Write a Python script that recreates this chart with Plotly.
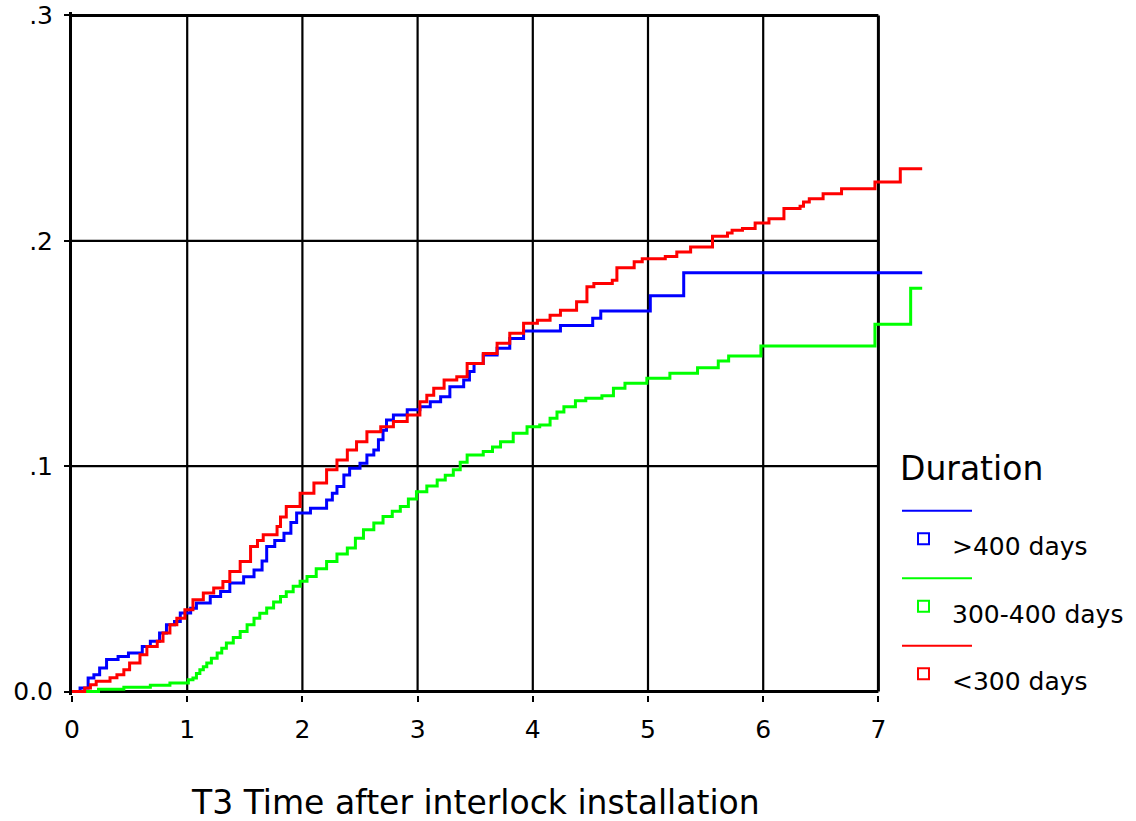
import plotly.graph_objects as go

# ---------------- data ----------------
series_names = [">400 days", "300-400 days", "<300 days"]
series_colors = ["#0000FF", "#00FF00", "#FF0000"]
legend_title = "Duration"
x_title = "T3 Time after interlock installation"

x_tick_vals = [0, 1, 2, 3, 4, 5, 6, 7]
x_tick_text = ["0", "1", "2", "3", "4", "5", "6", "7"]
y_tick_vals = [0.0, 0.1, 0.2, 0.3]
y_tick_text = ["0.0", ".1", ".2", ".3"]

blue_x = [0, 0.07, 0.14, 0.19, 0.24, 0.30, 0.40, 0.49, 0.61, 0.68, 0.76, 0.82, 0.89,
          0.94, 1.03, 1.08, 1.20, 1.29, 1.37, 1.49, 1.58, 1.65, 1.69, 1.76, 1.84, 1.90,
          1.95, 2.07, 2.21, 2.26, 2.30, 2.36, 2.41, 2.50, 2.56, 2.62, 2.66, 2.70, 2.73,
          2.79, 2.91, 3.02, 3.11, 3.20, 3.28, 3.40, 3.45, 3.49, 3.57, 3.69, 3.80, 3.92,
          4.24, 4.52, 4.59, 5.02, 5.31, 7.38]
blue_y = [0, 0.0016, 0.0060, 0.0075, 0.0105, 0.0142, 0.0156, 0.0171, 0.0200, 0.0223,
          0.0260, 0.0297, 0.0311, 0.0349, 0.0370, 0.0393, 0.0422, 0.0444, 0.0482, 0.0510,
          0.0540, 0.0579, 0.0644, 0.0670, 0.0703, 0.0750, 0.0792, 0.0814, 0.0850, 0.0880,
          0.0910, 0.0961, 0.0991, 0.1013, 0.1050, 0.1072, 0.1117, 0.1160, 0.1205, 0.1227,
          0.1250, 0.1264, 0.1286, 0.1308, 0.1353, 0.1382, 0.1420, 0.1456, 0.1493, 0.1523,
          0.1567, 0.1600, 0.1624, 0.1656, 0.1688, 0.1756, 0.1858, 0.1858]

green_x = [0, 0.23, 0.45, 0.68, 0.85, 1.01, 1.05, 1.08, 1.11, 1.14, 1.17, 1.21, 1.26,
           1.30, 1.34, 1.40, 1.46, 1.52, 1.58, 1.63, 1.69, 1.75, 1.81, 1.86, 1.92, 1.98,
           2.04, 2.12, 2.21, 2.30, 2.39, 2.46, 2.53, 2.62, 2.70, 2.78, 2.85, 2.92, 2.99,
           3.08, 3.17, 3.24, 3.31, 3.37, 3.43, 3.57, 3.65, 3.72, 3.83, 3.95, 4.06, 4.15,
           4.21, 4.27, 4.37, 4.46, 4.60, 4.70, 4.80, 4.99, 5.19, 5.43, 5.61, 5.70, 5.98,
           6.97, 7.28, 7.38]
green_y = [0, 0.0010, 0.0019, 0.0028, 0.0038, 0.0053, 0.0060, 0.0080, 0.0097, 0.0110,
           0.0127, 0.0148, 0.0171, 0.0192, 0.0216, 0.0240, 0.0267, 0.0297, 0.0326, 0.0348,
           0.0371, 0.0398, 0.0422, 0.0443, 0.0467, 0.0490, 0.0511, 0.0545, 0.0577, 0.0610,
           0.0637, 0.0680, 0.0718, 0.0748, 0.0777, 0.0800, 0.0821, 0.0855, 0.0887, 0.0912,
           0.0939, 0.0960, 0.0984, 0.1017, 0.1050, 0.1065, 0.1085, 0.1109, 0.1146, 0.1175,
           0.1183, 0.1213, 0.1240, 0.1264, 0.1290, 0.1301, 0.1313, 0.1346, 0.1368, 0.1390,
           0.1412, 0.1437, 0.1467, 0.1489, 0.1533, 0.1630, 0.1789, 0.1789]

red_x = [0, 0.11, 0.16, 0.21, 0.33, 0.39, 0.45, 0.50, 0.59, 0.65, 0.74, 0.79, 0.85,
         0.91, 0.98, 1.05, 1.14, 1.23, 1.31, 1.37, 1.46, 1.55, 1.61, 1.66, 1.78, 1.81,
         1.86, 1.98, 2.10, 2.21, 2.30, 2.39, 2.47, 2.56, 2.68, 2.79, 2.91, 3.02, 3.08,
         3.14, 3.23, 3.34, 3.43, 3.57, 3.69, 3.80, 3.92, 4.04, 4.15, 4.24, 4.38, 4.47,
         4.53, 4.69, 4.73, 4.88, 4.95, 5.15, 5.25, 5.37, 5.56, 5.69, 5.73, 5.82, 5.93,
         6.05, 6.18, 6.32, 6.35, 6.40, 6.52, 6.68, 6.97, 7.19, 7.38]
red_y = [0, 0.0016, 0.0031, 0.0046, 0.0061, 0.0075, 0.0097, 0.0127, 0.0164, 0.0200,
         0.0223, 0.0260, 0.0297, 0.0326, 0.0363, 0.0408, 0.0437, 0.0460, 0.0489, 0.0533,
         0.0577, 0.0644, 0.0670, 0.0696, 0.0732, 0.0775, 0.0821, 0.0880, 0.0925, 0.0984,
         0.1028, 0.1072, 0.1109, 0.1153, 0.1175, 0.1198, 0.1227, 0.1286, 0.1315, 0.1346,
         0.1382, 0.1397, 0.1456, 0.1500, 0.1545, 0.1590, 0.1634, 0.1648, 0.1670, 0.1692,
         0.1730, 0.1796, 0.1810, 0.1825, 0.1880, 0.1907, 0.1920, 0.1930, 0.1950, 0.1973,
         0.2020, 0.2035, 0.2047, 0.2054, 0.2079, 0.2098, 0.2143, 0.2153, 0.2172, 0.2187,
         0.2209, 0.2231, 0.2261, 0.2320, 0.2320]

series_x = [blue_x, green_x, red_x]
series_y = [blue_y, green_y, red_y]

# ---------------- layout geometry ----------------
W, H = 1136, 821
ML, MR, MT, MB = 72, 200, 12, 126
X_RANGE = [0, 7.5]
Y_RANGE = [-0.0015, 0.3015]
PW = W - ML - MR
PH = H - MT - MB
BOX_X = 7
BOX_Y = 0.3
FONT = "DejaVu Sans"


def px_to_paper_x(px):
    return (px - ML) / PW


def px_to_paper_y(py):
    return (H - MB - py) / PH


fig = go.Figure()

for name, color, xs, ys in zip(series_names, series_colors, series_x, series_y):
    fig.add_trace(go.Scatter(
        x=xs, y=ys, mode="lines", name=name, showlegend=False,
        line=dict(color=color, width=3, shape="hv"), hoverinfo="skip"))

shapes = []
for xv in x_tick_vals[1:-1]:
    shapes.append(dict(type="line", xref="x", yref="y", x0=xv, x1=xv, y0=0, y1=BOX_Y,
                       line=dict(color="black", width=2.2), layer="below"))
for yv in y_tick_vals[1:-1]:
    shapes.append(dict(type="line", xref="x", yref="y", x0=0, x1=BOX_X, y0=yv, y1=yv,
                       line=dict(color="black", width=2.2), layer="below"))
shapes.append(dict(type="line", xref="x", yref="y", x0=BOX_X, x1=BOX_X, y0=0, y1=BOX_Y,
                   line=dict(color="black", width=3), layer="below"))
shapes.append(dict(type="line", xref="x", yref="y", x0=0, x1=BOX_X, y0=BOX_Y, y1=BOX_Y,
                   line=dict(color="black", width=3), layer="below"))
shapes.append(dict(type="line", xref="x", yref="y", x0=0, x1=BOX_X, y0=0, y1=0,
                   line=dict(color="black", width=3), layer="below"))

annotations = []
annotations.append(dict(text=x_title, xref="x", yref="paper", x=BOX_X / 2,
                        y=px_to_paper_y(802), xanchor="center", yanchor="middle",
                        showarrow=False, font=dict(family=FONT, size=33, color="black")))

annotations.append(dict(text=legend_title, xref="paper", yref="paper",
                        x=px_to_paper_x(898), y=px_to_paper_y(469),
                        xanchor="left", yanchor="middle", showarrow=False,
                        font=dict(family=FONT, size=33, color="black")))
step = 67.5
for i, (name, color) in enumerate(zip(series_names, series_colors)):
    ly = 510.7 + step * i
    my = 538.7 + step * i
    ty = 546.5 + step * i
    shapes.append(dict(type="line", xref="paper", yref="paper",
                       x0=px_to_paper_x(902), x1=px_to_paper_x(972),
                       y0=px_to_paper_y(ly), y1=px_to_paper_y(ly),
                       line=dict(color=color, width=2)))
    shapes.append(dict(type="rect", xref="paper", yref="paper",
                       x0=px_to_paper_x(918), x1=px_to_paper_x(929),
                       y0=px_to_paper_y(my + 5.5), y1=px_to_paper_y(my - 5.5),
                       line=dict(color=color, width=2), fillcolor="rgba(0,0,0,0)"))
    annotations.append(dict(text=name, xref="paper", yref="paper",
                            x=px_to_paper_x(950), y=px_to_paper_y(ty),
                            xanchor="left", yanchor="middle", showarrow=False,
                            font=dict(family=FONT, size=25, color="black")))

fig.update_layout(
    width=W, height=H,
    margin=dict(l=ML, r=MR, t=MT, b=MB, pad=0, autoexpand=False),
    paper_bgcolor="white", plot_bgcolor="white",
    showlegend=False,
    shapes=shapes, annotations=annotations,
    font=dict(family=FONT, size=25, color="black"),
)
fig.update_xaxes(range=X_RANGE, showgrid=False, zeroline=False, showline=False,
                 automargin=False,
                 tickmode="array", tickvals=x_tick_vals, ticktext=x_tick_text,
                 ticks="outside", ticklen=6, tickwidth=2, tickcolor="black",
                 ticklabelstandoff=6,
                 tickfont=dict(family=FONT, size=25, color="black"))
fig.update_yaxes(range=Y_RANGE, showgrid=False, zeroline=False, showline=True,
                 automargin=False,
                 linecolor="black", linewidth=3,
                 tickmode="array", tickvals=y_tick_vals, ticktext=y_tick_text,
                 ticks="outside", ticklen=5, tickwidth=2, tickcolor="black",
                 ticklabelstandoff=6,
                 tickfont=dict(family=FONT, size=25, color="black"))

fig.write_html(
    "out.html",
    config={"displayModeBar": False},
    post_script="document.body.style.margin='0';document.body.style.overflow='hidden';",
)
